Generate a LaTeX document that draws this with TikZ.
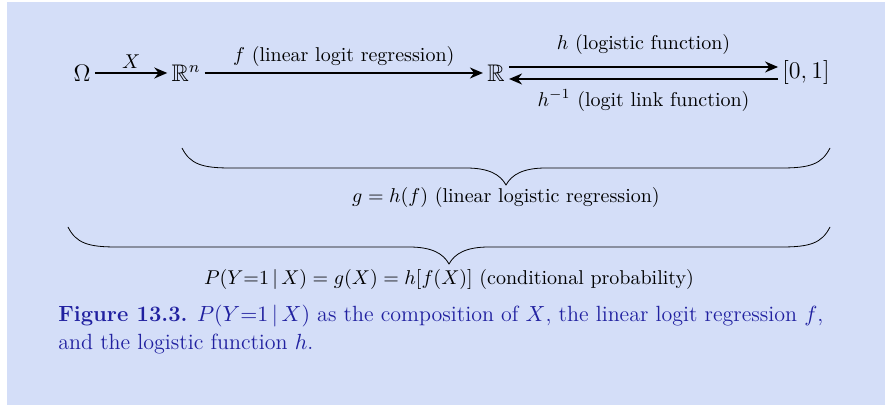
\documentclass[tikz,border=0pt]{standalone}
\usepackage{amsmath,amssymb}
\usepackage{tikz}
\usetikzlibrary{arrows.meta, positioning, calc}
\definecolor{panelbg}{RGB}{212,222,248}
\definecolor{capblue}{RGB}{32,32,160}

% horizontal brace, tip down: #1 left x, #2 right x, #3 top y, #4 name of tip
\newcommand\hbrace[4]{%
    \pgfmathsetmacro\bm{(#1+#2)/2}
    \draw (#1,#3) .. controls (#1+8,#3+16) and (#1+20,#3+20) .. (#1+48,#3+20)
        -- (\bm-40,#3+20) .. controls (\bm-18,#3+20) and (\bm-6,#3+26) .. (\bm,#3+37) coordinate (#4)
        .. controls (\bm+6,#3+26) and (\bm+18,#3+20) .. (\bm+40,#3+20)
        -- (#2-48,#3+20) .. controls (#2-20,#3+20) and (#2-8,#3+16) .. (#2,#3);
}

\begin{document}
\begin{tikzpicture}[
    x=0.5pt, y=-0.5pt,
    space/.style={font=\large, inner sep=2pt},
    lbl/.style={font=\normalsize, inner sep=2pt},
    map/.style={draw, thick, -{Stealth[length=6.5pt, width=5.5pt]}}
]
    \useasboundingbox (0,0) rectangle (885,405);
    \fill[panelbg] (7,2) rectangle (885,405);

    % spaces
    \node[space] (om) at (82,73)  {$\Omega$};
    \node[space] (rn) at (186,73) {$\mathbb{R}^n$};
    \node[space] (r)  at (496,73) {$\mathbb{R}$};
    \node[space] (iv) at (806,73) {$[0,1]$};

    % maps
    \draw[map] (om) -- node[lbl, above] (xl) {$X$} (rn);
    \draw[map] (rn) -- node[lbl, above=1pt] (fl) {$f$ (linear logit regression)} (r);
    \draw[map] ([yshift=3pt]r.east) -- node[lbl, above=4pt] (hl) {$h$ (logistic function)} ([yshift=3pt]iv.west);
    \draw[map] ([yshift=-3pt]iv.west) -- node[lbl, below=3pt] (hil) {$h^{-1}$ (logit link function)} ([yshift=-3pt]r.east);

    % braces
    \hbrace{182}{830}{148}{b1}
    \hbrace{68}{830}{227}{b2}
    \node[lbl, below=-1pt of b1] (gl) {$g = h(f)$ (linear logistic regression)};
    \node[lbl, below=0.5pt of b2] (pl) {$P(Y{=}1\,|\,X) = g(X) = h[f(X)]$ (conditional probability)};

    % caption
    \node[anchor=north west, align=left, inner sep=0pt, text=capblue,
          font=\fontsize{11}{14}\selectfont] (cap) at (58,305)
        {\textbf{Figure 13.3.} $P(Y{=}1\,|\,X)$ as the composition of $X$, the linear logit regression $f$,\\
         and the logistic function $h$.};
\end{tikzpicture}
\end{document}
